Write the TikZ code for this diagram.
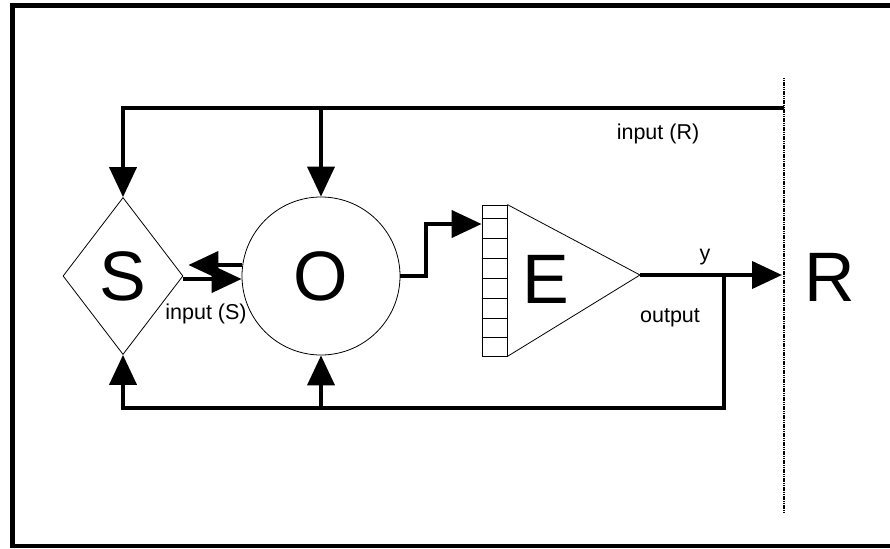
\documentclass[tikz,border=0pt]{standalone}
\usepackage{fontspec}
\setmainfont{Liberation Sans}
\usetikzlibrary{positioning, arrows.meta, shapes.geometric}

\begin{document}
\begin{tikzpicture}[x=1pt, y=-1pt,
  fl/.style={-{Triangle[length=30pt, width=27pt]}, line width=4pt},
  fino/.style={draw, line width=0.8pt, inner sep=0pt},
  big/.style={font=\fontsize{70}{70}\selectfont},
  et/.style={font=\fontsize{21.5}{23}\selectfont, inner sep=1pt}]
\useasboundingbox (0,0) rectangle (890,548);
\draw[line width=4.5pt] (892,5.3) -- (12.5,5.3) -- (12.5,545.8) -- (892,545.8);
% bloques
\node[fino, diamond, minimum width=120pt, minimum height=157pt, big] (S) at (123,276) {S};
\node[fino, circle, minimum size=158pt, big] (O) at (321,276) {O};
\node[fino, rectangle, minimum width=25pt, minimum height=151pt] (reg) at (494.5,280.5) {};
\foreach \y in {218,238,258,278,298,318,337}
  \draw[line width=0.8pt] (reg.west |- 0,\y) -- (reg.east |- 0,\y);
\coordinate (apex) at (640,275);
\draw[line width=0.8pt] (reg.north east) -- (apex) -- (reg.south east);
\node[big] (E) at (546,279) {E};
\node[big] (R) at (830,277) {R};
% frontera
\coordinate (Rtop) at (784,78);
\coordinate (Rbot) at (784,512);
\draw[dash pattern=on 1.2pt off 0.6pt, line width=1.6pt] (Rtop) -- (Rbot);
% flujos
\coordinate (in) at (784,108);
\draw[fl] (in) -- (S.north |- in) -- (S.north);
\draw[fl] (O.north |- in) -- (O.north);
\draw[fl, shorten >=5pt] (O.west |- 0,265) -- (S.east |- 0,265);
\draw[fl] (S.east |- 0,279) -- (O.west |- 0,279);
\coordinate (k) at (426,224);
\draw[fl] (O.east) -| (k) -- (reg.west |- k);
\draw[fl, shorten >=2pt] (apex) -- (Rtop |- apex);
\coordinate (fb) at (724,408);
\draw[fl] (apex -| fb) -- (fb) -- (S.south |- fb) -- (S.south);
\draw[fl] (O.south |- fb) -- (O.south);
% etiquetas
\node[et] (inS) at (206,314) {input (S)};
\node[et] (inR) at (658,134) {input (R)};
\node[et] (y) at (705,257) {y};
\node[et] (out) at (670,318) {output};
\end{tikzpicture}
\end{document}
